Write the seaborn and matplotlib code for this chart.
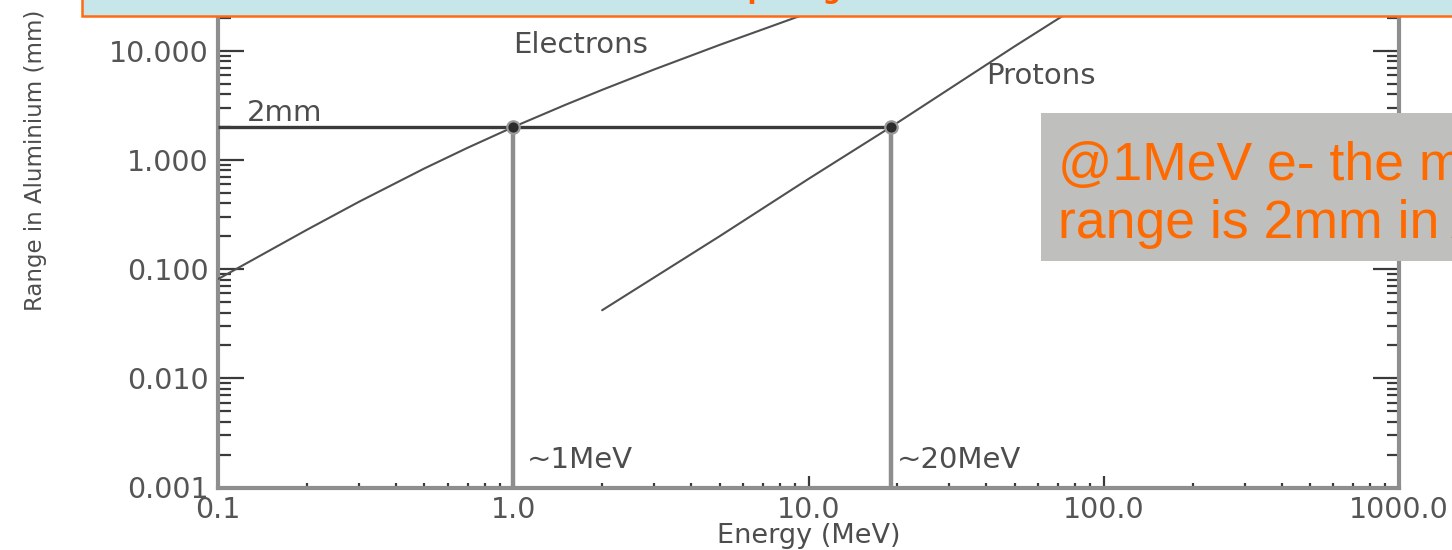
import matplotlib
matplotlib.use("Agg")
import matplotlib.pyplot as plt
from matplotlib.patches import Rectangle
from matplotlib.ticker import FixedLocator, FormatStrFormatter, LogLocator, NullFormatter
import numpy as np
import pandas as pd
import seaborn as sns

# Range in aluminium (mm) versus kinetic energy (MeV)
electron_energy = [0.1, 0.2, 0.3, 0.5, 0.7, 1.0, 1.5, 2.0, 3.0, 5.0, 10.0, 20.0]
electron_range = [0.081, 0.229, 0.413, 0.835, 1.29, 2.0, 3.19, 4.38, 6.73, 11.3, 22.2, 42.3]
proton_energy = [2.0, 5.0, 10.0, 19.0, 50.0, 100.0]
proton_range = [0.042, 0.20, 0.67, 2.0, 11.0, 36.0]

# 2 mm of aluminium and the energies that just get through it
threshold_range = 2.0
crossing_energy = [1.0, 19.0]
crossing_labels = ["~1MeV", "~20MeV"]

x_ticks = [0.1, 1.0, 10.0, 100.0, 1000.0]
y_ticks = [0.001, 0.01, 0.1, 1.0, 10.0]

sns.set_style("white")
plt.rcParams["font.family"] = ["DejaVu Sans"]

W, H = 1452, 550
fig = plt.figure(figsize=(W / 100, H / 100), dpi=100)
fig.patch.set_facecolor("white")
ax = fig.add_axes([218 / W, 62.5 / H, 1181 / W, 546 / H])
ax.set_xscale("log")
ax.set_yscale("log")

curves = pd.concat([
    pd.DataFrame({"Energy": electron_energy, "Range": electron_range, "Particle": "Electrons"}),
    pd.DataFrame({"Energy": proton_energy, "Range": proton_range, "Particle": "Protons"}),
], ignore_index=True)

sns.lineplot(data=curves, x="Energy", y="Range", units="Particle", estimator=None,
             color="#505050", lw=1.5, legend=False, ax=ax, zorder=3)

# 2 mm level and the two crossing energies
ax.plot([x_ticks[0], crossing_energy[-1]], [threshold_range, threshold_range],
        color="#3a3a3a", lw=2.4, zorder=4, solid_capstyle="butt")
for e in crossing_energy:
    ax.plot([e, e], [y_ticks[0], threshold_range], color="#8e8e8e", lw=3.2,
            zorder=2, solid_capstyle="butt")
sns.scatterplot(x=crossing_energy, y=[threshold_range] * len(crossing_energy), s=80,
                color="#2b2b2b", edgecolor="#9a9a9a", linewidth=1.6, zorder=5,
                legend=False, ax=ax)

ax.set_xlim(x_ticks[0], x_ticks[-1])
ax.set_ylim(y_ticks[0], 100)

ax.xaxis.set_major_locator(FixedLocator(x_ticks))
ax.xaxis.set_major_formatter(FormatStrFormatter("%.1f"))
ax.yaxis.set_major_locator(FixedLocator(y_ticks))
ax.yaxis.set_major_formatter(FormatStrFormatter("%.3f"))
ax.xaxis.set_minor_locator(LogLocator(base=10, subs=np.arange(2, 10), numticks=30))
ax.yaxis.set_minor_locator(LogLocator(base=10, subs=np.arange(2, 10), numticks=30))
ax.xaxis.set_minor_formatter(NullFormatter())
ax.yaxis.set_minor_formatter(NullFormatter())

ax.tick_params(axis="y", which="major", direction="in", length=19, width=1.6,
               color="#3a3a3a", left=True, right=True, labelsize=20.5,
               labelcolor="#555555", pad=7)
ax.tick_params(axis="y", which="minor", direction="in", length=9, width=1.6,
               color="#3a3a3a", left=True, right=True)
ax.tick_params(axis="x", which="major", direction="in", length=8.5, width=1.6,
               color="#3a3a3a", bottom=True, top=False, labelsize=20.5,
               labelcolor="#555555", pad=6)
ax.tick_params(axis="x", which="minor", direction="in", length=3.5, width=1.6,
               color="#3a3a3a", bottom=True, top=False)

for side in ["left", "right", "bottom"]:
    ax.spines[side].set_color("#8e8e8e")
    ax.spines[side].set_linewidth(3.0)
ax.spines["top"].set_visible(False)

ax.set_xlabel("Energy (MeV)", fontsize=19.5, color="#4d4d4d")
ax.xaxis.label.set_verticalalignment("baseline")
ax.xaxis.set_label_coords(0.5, -0.1016)
ax.set_ylabel("Range in Aluminium (mm)", fontsize=16.5, color="#4d4d4d")
ax.yaxis.set_label_coords(-0.145, 0.60)

label_style = dict(fontsize=21, color="#4d4d4d", ha="left", va="baseline", zorder=6)
ax.text(1.0, 9.5, "Electrons", **label_style)
ax.text(40.0, 5.0, "Protons", **label_style)
ax.text(0.125, 2.25, "2mm", **label_style)
for e, lab, dx in zip(crossing_energy, crossing_labels, [10, 4.5]):
    ax.annotate(lab, xy=(e, y_ticks[0]), xytext=(dx, 14), textcoords="offset points",
                **label_style)

# slide banner across the top
fig.add_artist(Rectangle((82 / W, 1 - 16 / H), 1.5, 0.3, transform=fig.transFigure,
                         facecolor="#c6e6ea", edgecolor="#ff6a13", lw=1.8, zorder=10))
fig.text(670.5 / W, 1 + 2.3 / H, "e- vs p range", fontsize=18.4, fontweight="bold",
         color="#ff5a00", ha="left", va="baseline", zorder=11)

# callout box
fig.add_artist(Rectangle((1041 / W, 1 - 261 / H), 0.5, 148 / H, transform=fig.transFigure,
                         facecolor="#bfbfbe", edgecolor="none", zorder=10))
callout_style = dict(fontsize=38.5, color="#ff6a00", family=["Liberation Sans", "DejaVu Sans"],
                     ha="left", va="baseline", zorder=11)
fig.text(1058 / W, 1 - 180 / H, "@1MeV e- the max", **callout_style)
fig.text(1058 / W, 1 - 238 / H, "range is 2mm in Al", **callout_style)

fig.savefig("out.png", dpi=100)
